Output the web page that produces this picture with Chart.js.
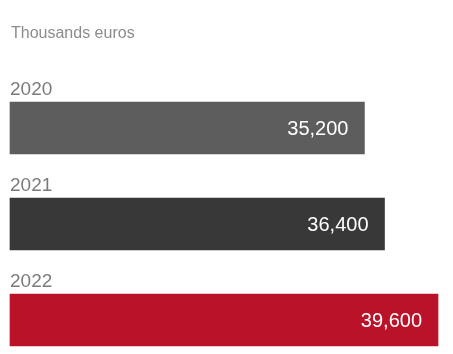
<!DOCTYPE html>
<html>
<head>
<meta charset="utf-8">
<script src="https://cdn.jsdelivr.net/npm/chart.js@4"></script>
<style>
  body { margin: 0; background: #fff; }
  canvas { display: block; }
</style>
</head>
<body>
<canvas id="chart" width="453" height="354"></canvas>
<script>
const years = ['2020', '2021', '2022'];
const revenue = [35200, 36400, 39600];
const barColors = ['#5d5d5d', '#383838', '#ba1228'];
const unitLabel = 'Thousands euros';

const X_MIN = 14000;
const X_MAX = 39600;
const FONT = '"Liberation Sans", Arial, Helvetica, sans-serif';

// year above each bar, value inside the bar's right end
const barLabels = {
    id: 'barLabels',
    afterDatasetsDraw(chart) {
        const ctx = chart.ctx;
        const meta = chart.getDatasetMeta(0);
        ctx.save();

        ctx.font = '16px ' + FONT;
        ctx.fillStyle = '#8c8c8c';
        ctx.textAlign = 'left';
        ctx.textBaseline = 'alphabetic';
        ctx.fillText(unitLabel, 11, 38);

        meta.data.forEach((bar, i) => {
            const top = bar.y - bar.height / 2;
            ctx.font = '19px ' + FONT;
            ctx.fillStyle = '#7b7b7b';
            ctx.textAlign = 'left';
            ctx.textBaseline = 'alphabetic';
            ctx.fillText(years[i], chart.chartArea.left, top - 7);

            ctx.font = '20px ' + FONT;
            ctx.fillStyle = '#ffffff';
            ctx.textAlign = 'right';
            ctx.textBaseline = 'middle';
            ctx.fillText(revenue[i].toLocaleString('en-US'), bar.x - 16, bar.y + 1);
        });
        ctx.restore();
    }
};

new Chart(document.getElementById('chart'), {
    type: 'bar',
    data: {
        labels: years,
        datasets: [{
            data: revenue,
            base: X_MIN,
            backgroundColor: barColors,
            borderWidth: 0,
            barThickness: 52,
            clip: false
        }]
    },
    options: {
        indexAxis: 'y',
        responsive: false,
        animation: false,
        layout: { padding: { left: 10, right: 15, top: 128, bottom: 34 } },
        scales: {
            x: { type: 'linear', min: X_MIN, max: X_MAX, display: false },
            y: { type: 'category', offset: false, display: false }
        },
        plugins: {
            legend: { display: false },
            tooltip: { enabled: false }
        }
    },
    plugins: [barLabels]
});
</script>
</body>
</html>
